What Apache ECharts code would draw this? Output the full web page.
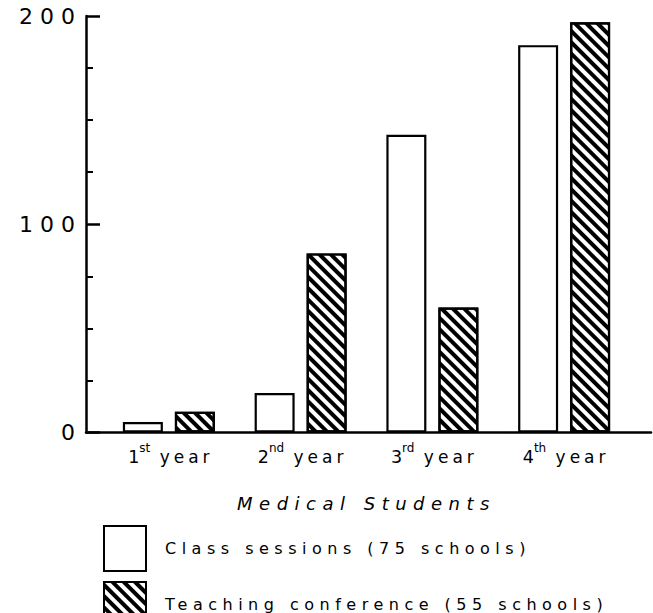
<!DOCTYPE html>
<html>
<head>
<meta charset="utf-8">
<script src="https://cdn.jsdelivr.net/npm/echarts@6/dist/echarts.min.js"></script>
<style>
  html, body { margin: 0; padding: 0; background: #fff; }
  #chart { width: 653px; height: 613px; }
  #chart text[style*="22px"] { letter-spacing: 7px; }
  #chart text[style*="18px"] { letter-spacing: 6.5px; }
  #chart text[style*="17px"] { letter-spacing: 4px; }
  #chart text[style*="16px"] { letter-spacing: 5.5px; }
</style>
</head>
<body>
<div id="chart"></div>
<script>
const categories = ['1st year', '2nd year', '3rd year', '4th year'];
const seriesNames = ['Class sessions (75 schools)', 'Teaching conference (55 schools)'];
const classSessions = [5, 19, 143, 186];
const teachingConference = [10, 86, 60, 197];
const axisTitle = 'Medical Students';
const yMin = 0, yMax = 200, yStep = 100;

const FONT = 'DejaVu Sans';
const chart = echarts.init(document.getElementById('chart'), null, { renderer: 'svg' });

function legendFor(i, top) {
  return {
    orient: 'vertical',
    left: 103,
    top: top,
    padding: 0,
    itemWidth: 42,
    itemHeight: 45,
    icon: 'rect',
    selectedMode: false,
    textStyle: { fontFamily: FONT, fontSize: 16, color: '#000', padding: [0, 0, 0, 14] },
    data: [seriesNames[i]]
  };
}

chart.setOption({
  backgroundColor: '#fff',
  animation: false,
  grid: [
    { left: 103, right: 23, top: 16, bottom: 180.5 },
    { left: 86, right: 2, top: 16, bottom: 180.5 }
  ],
  legend: [legendFor(0, 525), legendFor(1, 581)],
  xAxis: [
    {
      type: 'category',
      gridIndex: 0,
      data: categories,
      axisLine: { show: false },
      axisTick: { show: false },
      name: axisTitle,
      nameLocation: 'middle',
      nameGap: 62,
      nameTextStyle: { fontFamily: FONT, fontSize: 18, fontStyle: 'italic', color: '#000' },
      axisLabel: {
        margin: 9,
        padding: [0, 16, 0, 0],
        formatter: function (v) {
          const m = v.match(/^(\d)(\w+) (.*)$/);
          return '{d|' + m[1] + '}{s|' + m[2] + '}{n| ' + m[3] + '}';
        },
        rich: {
          d: { fontFamily: FONT, fontSize: 17.5, color: '#000', lineHeight: 24, verticalAlign: 'bottom', align: 'left' },
          n: { fontFamily: FONT, fontSize: 17, color: '#000', lineHeight: 24, verticalAlign: 'bottom', align: 'left' },
          s: { fontFamily: FONT, fontSize: 12, color: '#000', lineHeight: 14, verticalAlign: 'top', align: 'left' }
        }
      }
    },
    {
      type: 'value',
      gridIndex: 1,
      min: 0, max: 1,
      axisLine: { show: true, lineStyle: { color: '#000', width: 2.5 } },
      axisTick: { show: false },
      axisLabel: { show: false },
      splitLine: { show: false }
    }
  ],
  yAxis: [
    {
      type: 'value',
      gridIndex: 0,
      min: yMin, max: yMax, interval: yStep,
      offset: 17,
      axisLine: { show: true, lineStyle: { color: '#000', width: 2.5 } },
      axisTick: { show: true, inside: true, length: 14, lineStyle: { color: '#000', width: 2.5 } },
      minorTick: { show: true, splitNumber: 4, length: 7, lineStyle: { color: '#000', width: 2 } },
      splitLine: { show: false },
      minorSplitLine: { show: false },
      axisLabel: { fontFamily: FONT, fontSize: 22, color: '#000', margin: 4 }
    },
    {
      type: 'value',
      gridIndex: 1,
      show: false,
      min: 0, max: 1
    }
  ],
  series: [
    {
      name: seriesNames[0],
      type: 'bar',
      xAxisIndex: 0, yAxisIndex: 0,
      data: classSessions,
      barWidth: 40,
      barGap: '30%',
      itemStyle: { color: '#fff', borderColor: '#000', borderWidth: 2.2 }
    },
    {
      name: seriesNames[1],
      type: 'bar',
      xAxisIndex: 0, yAxisIndex: 0,
      data: teachingConference,
      barWidth: 40,
      barGap: '30%',
      itemStyle: {
        color: '#fff', borderColor: '#000', borderWidth: 2.2,
        decal: {
          symbol: 'rect',
          symbolSize: 1,
          rotation: Math.PI / 4,
          dashArrayX: [[1, 0]],
          dashArrayY: [4, 4],
          color: '#000',
          backgroundColor: '#fff'
        }
      }
    }
  ]
});
</script>
</body>
</html>
